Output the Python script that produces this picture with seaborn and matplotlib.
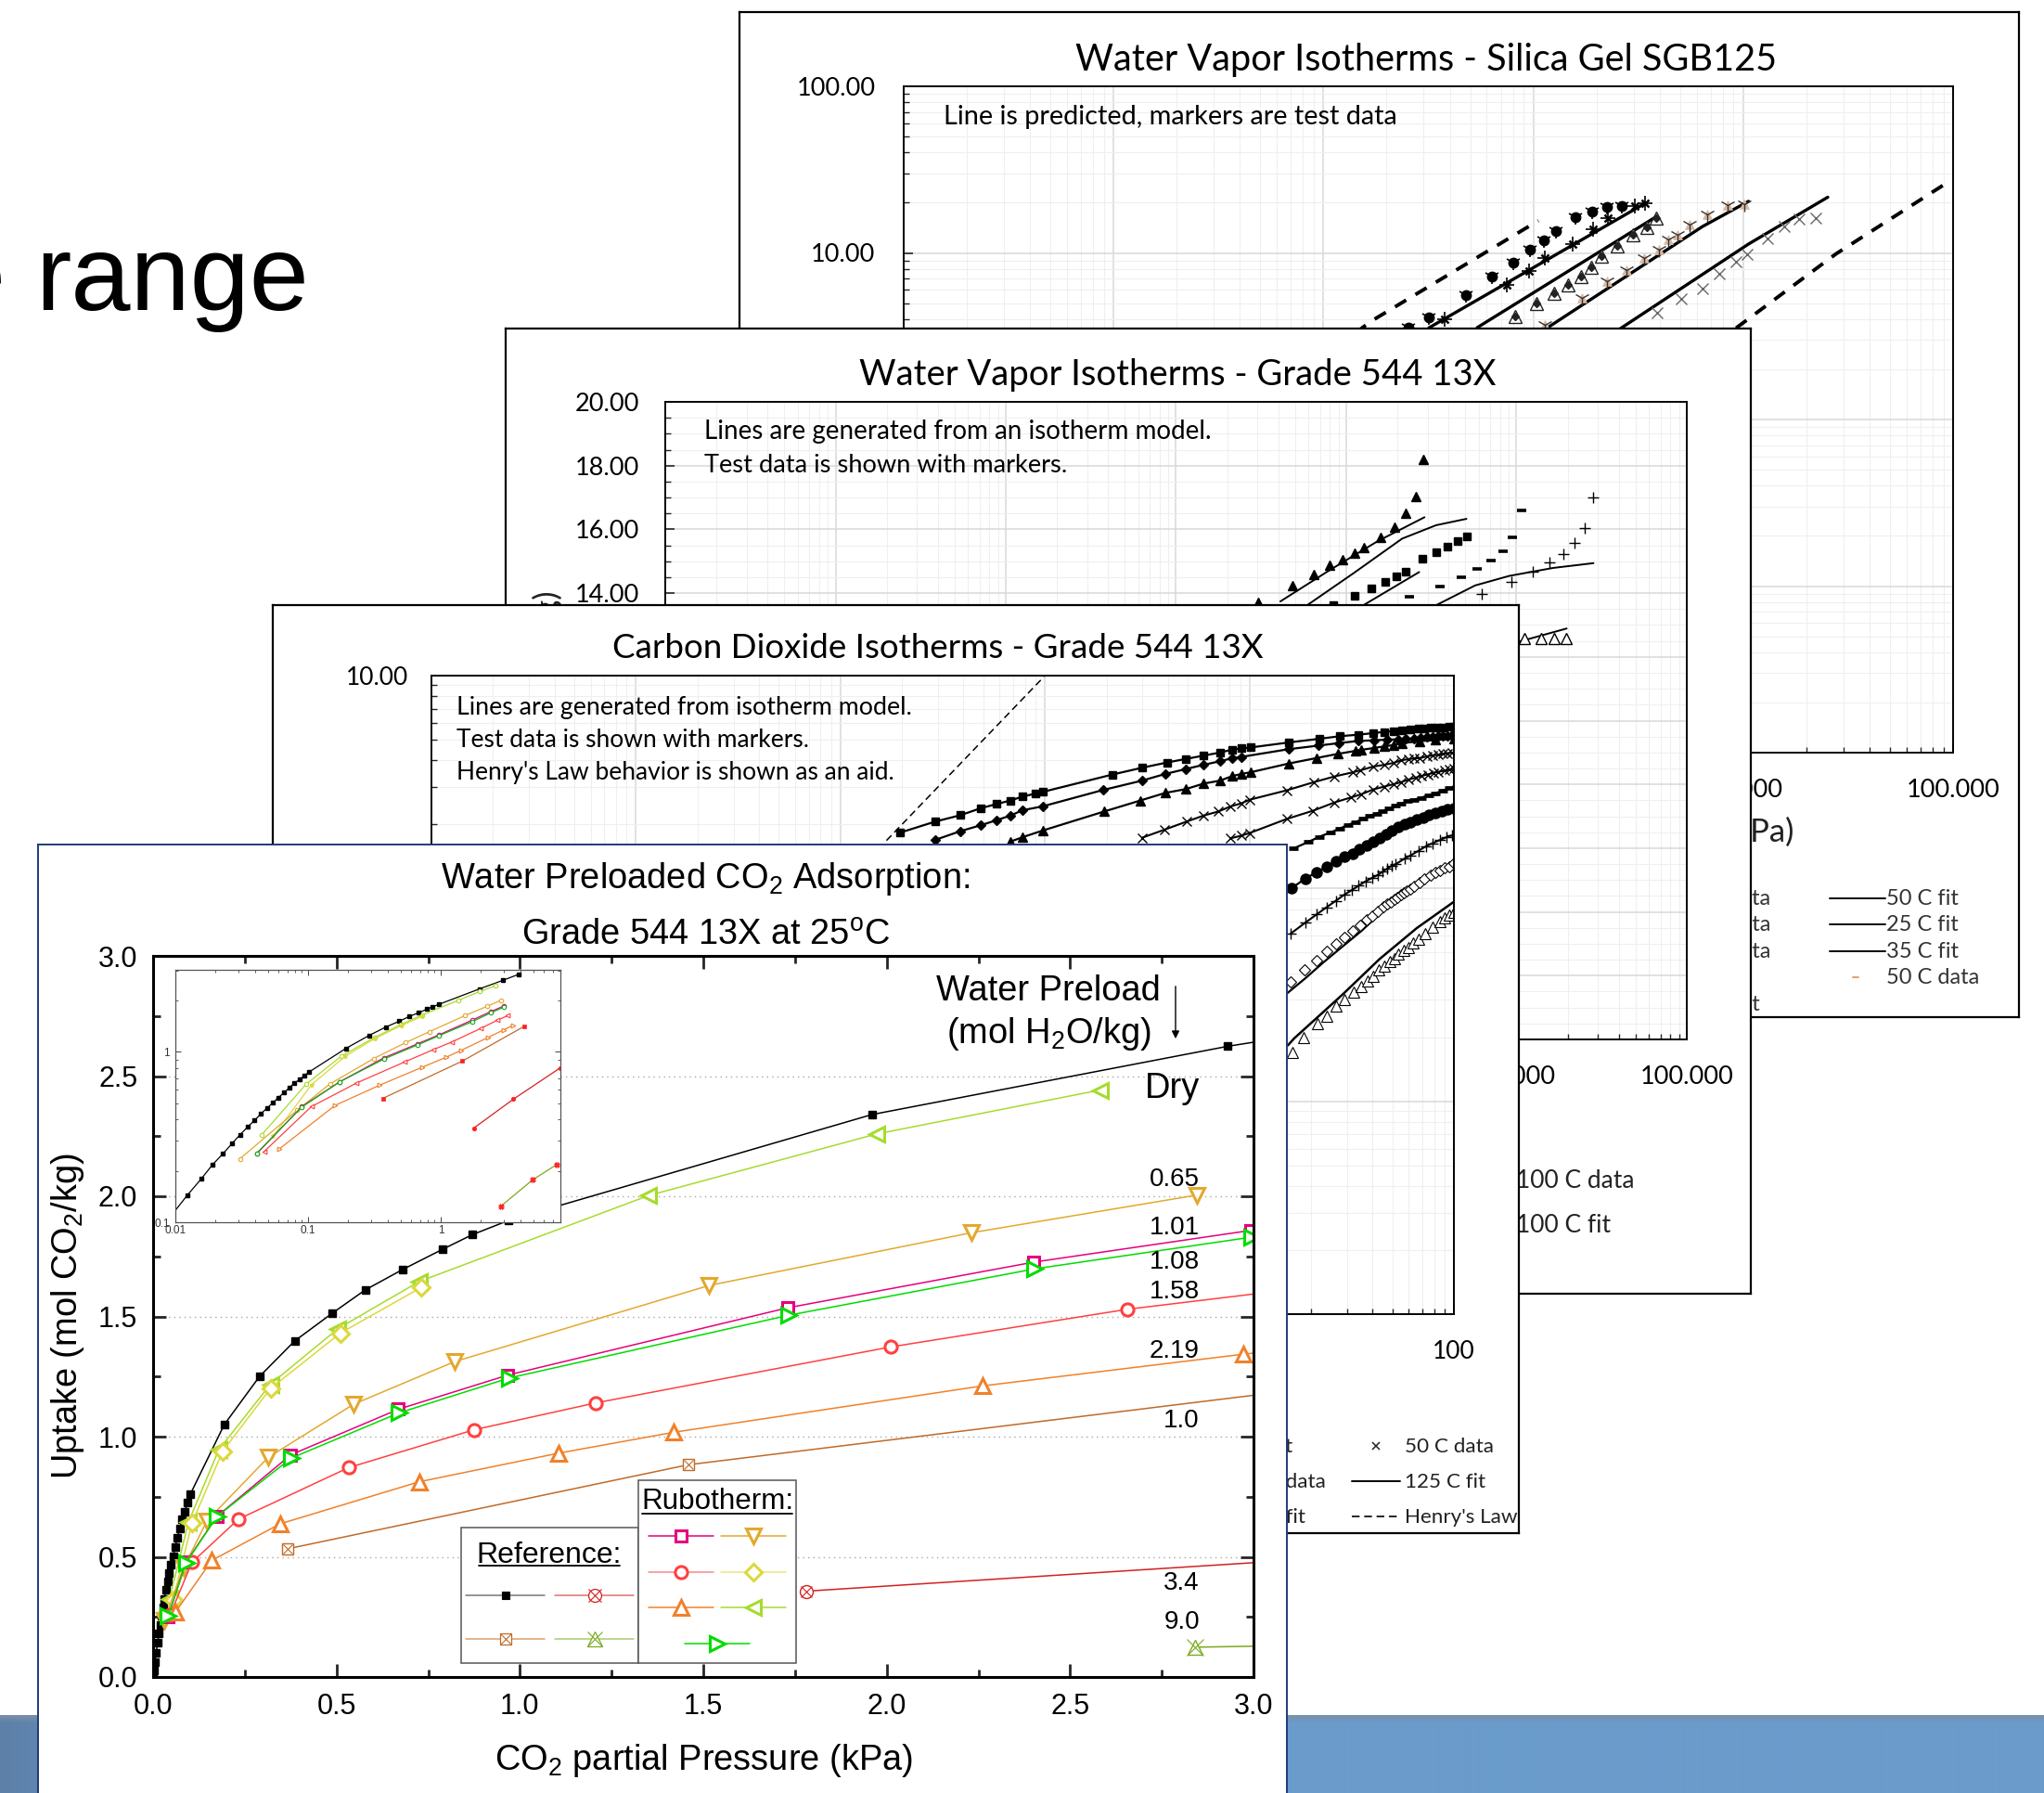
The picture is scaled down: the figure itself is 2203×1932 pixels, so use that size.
"""
Slide montage: three isotherm charts stacked behind the water preloaded CO2 chart.
"""

import numpy as np
import matplotlib
matplotlib.use("Agg")
import matplotlib.pyplot as plt
from matplotlib.ticker import LogLocator, FixedLocator, FixedFormatter, MultipleLocator, NullFormatter
import seaborn as sns

W, H = 2203, 1932

# main chart, dry and rubotherm series
dry_x = [0.0006, 0.002, 0.0045, 0.0085, 0.0123, 0.0157, 0.019, 0.0229, 0.0267, 0.0307, 0.035, 0.0395, 0.0442, 0.0493, 0.0545, 0.06, 0.0662, 0.0725, 0.0788, 0.0866, 0.0936, 0.102, 0.194, 0.29, 0.386, 0.489, 0.578, 0.68, 0.79, 0.87, 0.97, 1.96, 2.93, 3.87]
dry_y = [0.006, 0.028, 0.06, 0.1, 0.144, 0.18, 0.217, 0.253, 0.289, 0.326, 0.362, 0.396, 0.433, 0.469, 0.503, 0.54, 0.578, 0.616, 0.655, 0.689, 0.724, 0.762, 1.05, 1.25, 1.398, 1.514, 1.61, 1.695, 1.78, 1.84, 1.9, 2.34, 2.624, 2.85]
lime_x = [0.0448, 0.0966, 0.179, 0.32, 0.504, 0.725, 1.351, 1.972, 2.582]
lime_y = [0.326, 0.645, 0.945, 1.218, 1.449, 1.645, 2.003, 2.259, 2.442]
yellow_x = [0.0546, 0.106, 0.19, 0.32, 0.51, 0.73]
yellow_y = [0.32, 0.64, 0.94, 1.2, 1.43, 1.62]
gold_x = [0.0307, 0.083, 0.147, 0.314, 0.547, 0.822, 1.516, 2.23, 2.846]
gold_y = [0.236, 0.455, 0.65, 0.914, 1.135, 1.312, 1.629, 1.848, 2.005]
pink_x = [0.041, 0.09, 0.174, 0.375, 0.669, 0.967, 1.73, 2.401, 2.993]
pink_y = [0.252, 0.478, 0.668, 0.924, 1.114, 1.256, 1.536, 1.726, 1.858]
green_x = [0.041, 0.09, 0.174, 0.377, 0.671, 0.971, 1.733, 2.404, 2.995]
green_y = [0.254, 0.475, 0.668, 0.911, 1.099, 1.244, 1.505, 1.698, 1.83]
red_x = [0.0467, 0.106, 0.233, 0.533, 0.874, 1.206, 2.01, 2.657, 3.2]
red_y = [0.26, 0.477, 0.657, 0.871, 1.028, 1.14, 1.373, 1.53, 1.63]
orange_x = [0.061, 0.16, 0.346, 0.725, 1.105, 1.419, 2.261, 2.973, 3.5]
orange_y = [0.27, 0.485, 0.637, 0.812, 0.931, 1.018, 1.211, 1.343, 1.43]
ref_brown_x = [0.366, 1.459, 4.3]
ref_brown_y = [0.533, 0.883, 1.416]
ref_red_x = [1.78, 3.53, 7.95]
ref_red_y = [0.357, 0.527, 0.804]
ref_green_x = [2.84, 4.92, 7.5]
ref_green_y = [0.124, 0.177, 0.218]

main_labels = ["Dry", "0.65", "1.01", "1.08", "1.58", "2.19", "1.0", "3.4", "9.0"]

# silica gel chart, visible part
sg_dash1_x = [0.142, 0.167, 1.02, 1.057]
sg_dash1_y = [3.3, 3.86, 15.2, 15.6]
sg_fit1_x = [0.318, 3.42]
sg_fit1_y = [3.55, 19.9]
sg_fit2_x = [0.54, 3.85]
sg_fit2_y = [3.56, 16.5]
sg_fit3_x = [1.17, 6.4, 10.6]
sg_fit3_y = [3.56, 14.4, 20.4]
sg_fit4_x = [2.56, 10.6, 25.3]
sg_fit4_y = [3.47, 11.3, 21.6]
sg_dash2_x = [9.25, 27.7, 98.6]
sg_dash2_y = [3.54, 9.87, 27.5]
sg_blob_x = [0.255, 0.318, 0.478, 0.637, 0.803, 0.964, 1.12, 1.28, 1.59, 1.91, 2.24, 2.65]
sg_blob_y = [3.55, 4.08, 5.6, 7.18, 8.78, 10.4, 11.9, 13.5, 16.3, 17.8, 18.8, 19.2]
sg_plus_x = [0.379, 0.747, 0.957, 1.13, 1.54, 1.93, 2.27, 3.03, 3.42]
sg_plus_y = [4.0, 6.45, 7.82, 9.28, 11.3, 13.8, 16.2, 19.2, 19.9]
sg_tri_x = [0.822, 1.04, 1.26, 1.47, 1.69, 1.89, 2.12, 2.52, 2.98, 3.48, 3.85]
sg_tri_y = [4.17, 4.99, 5.72, 6.45, 7.18, 8.16, 9.56, 11.0, 12.8, 14.2, 16.2]
sg_star_x = [1.14, 1.7, 2.24, 2.79, 3.36, 3.98, 4.41, 4.86, 5.58, 6.71, 8.43, 10.1]
sg_star_y = [3.7, 5.39, 6.73, 7.92, 9.28, 10.5, 12.0, 12.9, 14.8, 17.1, 19.4, 19.7]
sg_cross_x = [3.87, 5.09, 6.41, 7.69, 9.25, 10.4, 13.1, 15.7, 18.4, 22.1]
sg_cross_y = [4.39, 5.3, 6.07, 7.53, 8.85, 9.86, 12.2, 14.4, 16.0, 16.2]

# 13X water chart, visible part
wv_fit1_x = [0.41, 0.793, 1.53, 2.88]
wv_fit1_y = [13.74, 14.71, 15.63, 16.38]
wv_fit2_x = [0.589, 1.1, 2.13, 3.37, 5.08]
wv_fit2_y = [13.62, 14.62, 15.71, 16.13, 16.33]
wv_fit3_x = [1.26, 2.68]
wv_fit3_y = [13.62, 14.66]
wv_fit4_x = [3.37, 5.71, 9.06, 16.4, 28.3]
wv_fit4_y = [13.62, 14.24, 14.54, 14.79, 14.94]
wv_fit5_x = [10.4, 19.7]
wv_fit5_y = [12.48, 12.89]
wv_tri_x = [0.303, 0.481, 0.643, 0.793, 0.953, 1.12, 1.27, 1.59, 1.91, 2.24, 2.56, 2.83]
wv_tri_y = [13.71, 14.24, 14.59, 14.87, 15.06, 15.26, 15.43, 15.76, 16.08, 16.5, 17.03, 18.2]
wv_square_x = [0.836, 1.12, 1.41, 1.69, 1.97, 2.24, 2.81, 3.37, 3.95, 4.51, 5.08]
wv_square_y = [13.62, 13.91, 14.16, 14.36, 14.54, 14.67, 15.08, 15.28, 15.46, 15.63, 15.79]
wv_dash_x = [2.35, 3.53, 4.72, 5.9, 7.11, 8.32, 9.49, 10.7]
wv_dash_y = [13.89, 14.22, 14.5, 14.76, 15.01, 15.31, 15.76, 16.6]
wv_plus_x = [6.27, 9.38, 12.4, 15.7, 18.8, 21.8, 25.0, 28.2]
wv_plus_y = [13.96, 14.34, 14.67, 14.96, 15.24, 15.58, 16.04, 17.0]
wv_open_x = [11.1, 13.9, 16.6, 19.5]
wv_open_y = [12.57, 12.57, 12.57, 12.57]

# 13X CO2 chart, visible part
henry_x = [0.168, 0.99]
henry_y = [1.68, 9.89]
co2_s1_x = [0.196, 0.29, 0.387, 0.484, 0.578, 0.678, 0.776, 0.897, 0.973, 2.14, 2.98, 3.97, 4.89, 5.97, 7.18, 8.22, 9.12, 10.2, 15.5, 22, 27.6, 34.2, 40.4, 45.6, 50.7, 55.9, 60.9, 66.9, 71.8, 77, 82.6, 88.5, 94.9, 100]
co2_s1_y = [1.83, 2.06, 2.21, 2.38, 2.49, 2.59, 2.7, 2.79, 2.84, 3.43, 3.69, 3.91, 4.06, 4.21, 4.35, 4.49, 4.55, 4.6, 4.85, 5.05, 5.19, 5.28, 5.37, 5.44, 5.49, 5.55, 5.58, 5.62, 5.66, 5.68, 5.7, 5.72, 5.74, 5.75]
co2_s2_x = [0.29, 0.387, 0.484, 0.578, 0.678, 0.776, 0.973, 1.92, 2.98, 3.87, 4.89, 5.97, 7.18, 8.22, 9.12, 15.5, 21.7, 27.4, 34, 40.7, 47.3, 53.3, 58.2, 63.5, 68.6, 73.6, 78.4, 83.4, 88.5, 93.2, 98.2]
co2_s2_y = [1.69, 1.86, 1.98, 2.09, 2.2, 2.33, 2.43, 2.9, 3.21, 3.45, 3.64, 3.81, 3.96, 4.09, 4.15, 4.51, 4.69, 4.82, 4.93, 4.97, 5.0, 5.02, 5.03, 5.07, 5.1, 5.14, 5.16, 5.19, 5.21, 5.22, 5.24]
co2_s3_x = [0.678, 0.776, 0.973, 1.95, 2.93, 3.87, 4.89, 5.97, 7.18, 8.22, 9.12, 10.2, 15.5, 21.3, 27.1, 33, 35.2, 40.7, 45.6, 50.7, 55.9, 68.1, 81.1, 100]
co2_s3_y = [1.66, 1.74, 1.87, 2.3, 2.59, 2.81, 2.93, 3.11, 3.21, 3.37, 3.45, 3.52, 3.86, 4.1, 4.29, 4.43, 4.48, 4.57, 4.65, 4.72, 4.82, 4.92, 4.98, 5.05]
co2_s4_x = [2.98, 3.85, 4.92, 5.97, 7.06, 8.09, 9.12, 10, 15.2, 20.7, 26.1, 31.9, 34.9, 40.4, 45.6, 50.7, 55.3, 59.7, 63.5, 68.1, 73.6, 78.4, 83.4, 88.5, 93.2, 98.2]
co2_s4_y = [1.73, 1.89, 2.06, 2.2, 2.3, 2.43, 2.51, 2.61, 2.89, 3.16, 3.36, 3.51, 3.59, 3.74, 3.81, 3.89, 4.0, 4.05, 4.08, 4.1, 4.17, 4.22, 4.24, 4.29, 4.32, 4.35]
co2_s5_x = [8.09, 9.12, 10, 15.2, 20.5, 25.9, 31.5, 35.2, 40.4, 45.6, 50.7, 55.3, 60.2, 65.3, 69.3, 74.4, 79.6, 83.9, 90, 94.9, 99.6]
co2_s5_y = [1.72, 1.77, 1.82, 2.12, 2.32, 2.53, 2.68, 2.77, 2.92, 3.01, 3.09, 3.16, 3.25, 3.32, 3.38, 3.43, 3.5, 3.53, 3.58, 3.61, 3.65]
co2_s6_x = [16.4, 19.3, 22, 24.8, 27.6, 30.4, 33, 35.8, 38.7, 41.9, 44.9, 48.1, 51.6, 55.3, 59.3, 63.5, 69.3, 75.2, 81.1, 88.5, 94.9, 103]
co2_s6_y = [1.54, 1.65, 1.75, 1.83, 1.91, 1.99, 2.05, 2.12, 2.19, 2.25, 2.31, 2.37, 2.44, 2.5, 2.57, 2.61, 2.67, 2.74, 2.8, 2.89, 2.96, 3.01]
co2_s7_x = [16, 18.7, 21.2, 23.8, 26.6, 29.2, 31.9, 34.5, 37.4, 40.4, 43.3, 46.5, 49.8, 53.3, 57.3, 61.4, 65.8, 70.5, 75.6, 81.1, 86.9, 93.2, 100]
co2_s7_y = [1.0, 1.11, 1.19, 1.26, 1.34, 1.41, 1.46, 1.53, 1.6, 1.66, 1.73, 1.8, 1.87, 1.94, 2.0, 2.05, 2.1, 2.16, 2.21, 2.27, 2.31, 2.35, 2.39]
co2_s8_x = [15.9, 18.7, 21.4, 23.8, 26.4, 29, 31.7, 34.2, 37, 39.7, 42.6, 44.9, 47.3, 49.8, 51.9, 57.3, 61.4, 66.9, 73.2, 78.4, 85.6, 91.6, 98.2]
co2_s8_y = [0.613, 0.689, 0.757, 0.815, 0.874, 0.932, 0.983, 1.03, 1.08, 1.12, 1.16, 1.2, 1.24, 1.28, 1.3, 1.38, 1.43, 1.5, 1.58, 1.63, 1.69, 1.74, 1.78]
co2_s9_x = [15.9, 18.6, 21.2, 24, 26.6, 29.2, 32, 34.7, 37.4, 39.7, 42.6, 45.2, 47.3, 49.3, 51.2, 53, 54.9, 56.9, 58.9, 61.4, 63.9, 67.7, 71.8, 77, 81.1, 85.6, 90, 94.9, 100]
co2_s9_y = [0.363, 0.415, 0.458, 0.507, 0.547, 0.589, 0.634, 0.674, 0.713, 0.745, 0.783, 0.818, 0.846, 0.866, 0.889, 0.91, 0.932, 0.951, 0.973, 0.996, 1.02, 1.07, 1.11, 1.15, 1.19, 1.22, 1.25, 1.27, 1.31]
co2_fit9_x = [15.2, 18.8, 23.1, 28.5, 35.2, 43.3, 53.3, 65.8, 81.1, 100]
co2_fit9_y = [0.32, 0.379, 0.451, 0.533, 0.63, 0.757, 0.886, 1.02, 1.16, 1.32]
co2_s10_x = [16.2, 18.5, 21.6, 24, 26.6, 29.2, 32.2, 35.2, 37.9, 40.1, 43, 45.6, 48.6, 51.2, 53.7, 56.9, 59.7, 63, 66.9, 72.6, 78.4, 85.6, 90, 94.9, 100]
co2_s10_y = [0.17, 0.2, 0.231, 0.251, 0.28, 0.302, 0.325, 0.347, 0.366, 0.385, 0.415, 0.432, 0.454, 0.469, 0.49, 0.512, 0.529, 0.555, 0.579, 0.613, 0.656, 0.696, 0.725, 0.75, 0.775]
co2_fit10_x = [15.4, 16.6, 28.5, 43.3, 65.8, 100]
co2_fit10_y = [0.183, 0.198, 0.317, 0.466, 0.651, 0.866]

BLACK = "#000000"
PINK = "#e6007e"
GOLD = "#e3a82e"
RED = "#ff4040"
YELLOW = "#dcd83c"
ORANGE = "#f0812a"
LIME = "#a5dc2d"
GREEN = "#00dc00"
BROWN = "#c06a28"
REF_RED = "#d42020"
REF_GREEN = "#7aaa20"

sns.set_theme(style="white")
plt.rcParams["font.family"] = ["Liberation Sans", "DejaVu Sans"]
plt.rcParams["mathtext.fontset"] = "custom"
plt.rcParams["mathtext.rm"] = "Liberation Sans"
plt.rcParams["mathtext.it"] = "Liberation Sans"
plt.rcParams["mathtext.default"] = "regular"
plt.rcParams["text.color"] = "black"
plt.rcParams["lines.dash_capstyle"] = "butt"

CALIBRI = "Lato"
fig = plt.figure(figsize=(W / 100, H / 100), dpi=100, facecolor="white")


def px_axes(x0, y0, x1, y1, z):
    """Axes placed by figure pixels, y running down."""
    return fig.add_axes([x0 / W, 1 - y1 / H, (x1 - x0) / W, (y1 - y0) / H], zorder=z)


def card(x0, y0, x1, y1, z, edge="black", lw=1.6):
    """White card, text on it is placed in figure pixels."""
    ax = px_axes(x0, y0, x1, y1, z)
    ax.set_xlim(x0, x1)
    ax.set_ylim(y1, y0)
    ax.set_xticks([])
    ax.set_yticks([])
    ax.set_facecolor("white")
    for s in ax.spines.values():
        s.set_color(edge)
        s.set_linewidth(lw)
    return ax


def curve(ax, x, y, color="black", lw=1.1, ls="-", marker=None, ms=6, mfc=None, mec=None, mew=1.0):
    sns.lineplot(x=x, y=y, ax=ax, color=color, linewidth=lw, linestyle=ls, marker=marker,
                 markersize=ms, markerfacecolor=mfc if mfc else color, markeredgecolor=mec if mec else color,
                 markeredgewidth=mew, estimator=None, sort=False, legend=False, errorbar=None)


def dots(ax, x, y, marker, ms=6, color="black", mfc=None, mew=1.0):
    curve(ax, x, y, color=color, lw=0, ls="", marker=marker, ms=ms, mfc=mfc, mec=color, mew=mew)


def log_grid(ax):
    ax.grid(True, which="major", color="#d8d8d8", linewidth=1.1)
    ax.grid(True, which="minor", color="#efefef", linewidth=0.8)
    ax.set_axisbelow(True)


def panel_ticks(ax, size=19.5, ypad=22):
    ax.tick_params(axis="x", which="major", pad=20.5)
    ax.tick_params(axis="y", which="major", pad=ypad)
    ax.tick_params(axis="both", which="major", direction="in", length=7, width=1.2, bottom=True, left=True,
                   labelsize=size, labelfontfamily=CALIBRI, labelcolor="black")
    ax.tick_params(axis="both", which="minor", direction="in", length=4, width=1.0, bottom=True, left=True)
    for s in ax.spines.values():
        s.set_color("black")
        s.set_linewidth(1.4)
    ax.set_xlabel("")
    ax.set_ylabel("")


# slide background, blue band with a pale lip on its upper edge
bg = px_axes(0, 0, W, H, 0)
bg.set_axis_off()
left_rgb = np.array([0x5d, 0x80, 0xa8]) / 255
right_rgb = np.array([0x6a, 0x9b, 0xcb]) / 255
ramp = np.clip(np.linspace(0, 1, 256) * 12, 0, 1)[None, :, None]
band = left_rgb + (right_rgb - left_rgb) * ramp
lip = np.array([0x7a, 0x90, 0xa8]) / 255
fade = np.clip(np.arange(84) / 8.0, 0, 1)[:, None, None]
band = lip * (1 - fade) + band * fade
bg.imshow(band, extent=(0, W, H, 1848), aspect="auto", interpolation="bilinear")
bg.set_xlim(0, W)
bg.set_ylim(H, 0)
bg.text(38, 334, "range", fontsize=83, color="black", ha="left", va="baseline")
bg.text(5, 334, "e", fontsize=83, color="black", ha="right", va="baseline")

# ---- silica gel card
card_a = card(797, 13, 2176, 1096, 1)
card_a.text(1537, 64, "Water Vapor Isotherms - Silica Gel SGB125", family=CALIBRI, fontsize=28.5, ha="center", va="center")
card_a.text(1933, 897, "Water Pressure (kPa)", family=CALIBRI, fontsize=25, ha="right", va="center", color="#222222")
for yy, xe, txt in zip([968, 996, 1025, 1082], [1908, 1908, 1908, 1897], ["25 C data", "35 C data", "35 C data", "25 C fit"]):
    card_a.text(xe, yy, txt, family=CALIBRI, fontsize=17, ha="right", va="center", color="#333333")
for yy, txt in zip([968, 996, 1025], ["50 C fit", "25 C fit", "35 C fit"]):
    card_a.text(2033, yy, txt, family=CALIBRI, fontsize=17, ha="left", va="center", color="#333333")
    card_a.plot([1972, 2032], [yy, yy], color="black", lw=1.4)
card_a.text(2033, 1053, "50 C data", family=CALIBRI, fontsize=17, ha="left", va="center", color="#333333")
card_a.plot([1997, 2003], [1053, 1053], color="#e8a060", lw=1.4)

ax_a = px_axes(974, 93, 2105, 811, 2)
ax_a.set_xscale("log")
ax_a.set_yscale("log")
for x, y in [(sg_dash1_x, sg_dash1_y), (sg_dash2_x, sg_dash2_y)]:
    curve(ax_a, x, y, ls=(0, (3.6, 3.0)), lw=2.8)
for x, y in [(sg_fit1_x, sg_fit1_y), (sg_fit2_x, sg_fit2_y), (sg_fit3_x, sg_fit3_y), (sg_fit4_x, sg_fit4_y)]:
    curve(ax_a, x, y, lw=2.4)
dots(ax_a, sg_blob_x, sg_blob_y, "o", ms=7.5)
dots(ax_a, sg_blob_x, sg_blob_y, "1", ms=12, mew=1.2)
dots(ax_a, sg_plus_x, sg_plus_y, "+", ms=12, mew=1.2)
dots(ax_a, sg_plus_x, sg_plus_y, "x", ms=6, mew=1.8)
dots(ax_a, sg_tri_x, sg_tri_y, "^", ms=10, mfc="white", color="#222222")
dots(ax_a, sg_tri_x, sg_tri_y, "D", ms=4.5, color="#222222")
dots(ax_a, sg_star_x, sg_star_y, "^", ms=6.5, color="#d9b8a0", mew=0.5)
dots(ax_a, sg_star_x, sg_star_y, "1", ms=12, color="#333333")
dots(ax_a, sg_cross_x, sg_cross_y, "x", ms=8, color="#666666")
ax_a.set_xlim(0.001, 100)
ax_a.set_ylim(0.01, 100)
ax_a.xaxis.set_major_locator(FixedLocator([0.001, 0.01, 0.1, 1, 10, 100]))
ax_a.xaxis.set_major_formatter(FixedFormatter(["0.001", "0.010", "0.100", "1.000", "10.000", "100.000"]))
ax_a.yaxis.set_major_locator(FixedLocator([0.01, 0.1, 1, 10, 100]))
ax_a.yaxis.set_major_formatter(FixedFormatter(["0.01", "0.10", "1.00", "10.00", "100.00"]))
ax_a.xaxis.set_minor_locator(LogLocator(10, subs=range(2, 10), numticks=12))
ax_a.yaxis.set_minor_locator(LogLocator(10, subs=range(2, 10), numticks=12))
ax_a.xaxis.set_minor_formatter(NullFormatter())
ax_a.yaxis.set_minor_formatter(NullFormatter())
log_grid(ax_a)
panel_ticks(ax_a)
ax_a.text(0.038, 0.954, "Line is predicted, markers are test data", transform=ax_a.transAxes, family=CALIBRI, fontsize=20.8, va="center")

# ---- 13X water card
card_b = card(545, 354, 1887, 1394, 3)
card_b.text(1269, 404, "Water Vapor Isotherms - Grade 544 13X", family=CALIBRI, fontsize=27.5, ha="center", va="center")
card_b.text(590, 636, "Water Uptake (mol/kg)", family=CALIBRI, fontsize=25, rotation=90, ha="center", va="top", color="#222222")
card_b.text(1634, 1272, "100 C data", family=CALIBRI, fontsize=19, ha="left", va="center", color="#222222")
card_b.text(1634, 1320, "100 C fit", family=CALIBRI, fontsize=19, ha="left", va="center", color="#222222")

ax_b = px_axes(717, 433, 1818, 1120, 4)
ax_b.set_xscale("log")
for x, y in [(wv_fit1_x, wv_fit1_y), (wv_fit2_x, wv_fit2_y), (wv_fit3_x, wv_fit3_y), (wv_fit4_x, wv_fit4_y), (wv_fit5_x, wv_fit5_y)]:
    curve(ax_b, x, y, lw=1.4)
dots(ax_b, wv_tri_x, wv_tri_y, "^", ms=6.5)
dots(ax_b, wv_square_x, wv_square_y, "s", ms=5.5)
dots(ax_b, wv_dash_x, wv_dash_y, "_", ms=7, mew=2.6)
dots(ax_b, wv_plus_x, wv_plus_y, "+", ms=8)
dots(ax_b, wv_open_x, wv_open_y, "^", ms=8, mfc="white")
ax_b.set_xlim(0.0001, 100)
ax_b.set_ylim(0, 20)
ax_b.xaxis.set_major_locator(FixedLocator([0.0001, 0.001, 0.01, 0.1, 1, 10, 100]))
ax_b.xaxis.set_major_formatter(FixedFormatter(["0.000", "0.001", "0.010", "0.100", "1.000", "10.000", "100.000"]))
ax_b.xaxis.set_minor_locator(LogLocator(10, subs=range(2, 10), numticks=12))
ax_b.xaxis.set_minor_formatter(NullFormatter())
ax_b.yaxis.set_major_locator(MultipleLocator(2))
ax_b.yaxis.set_major_formatter("{x:.2f}")
ax_b.yaxis.set_minor_locator(MultipleLocator(0.5))
log_grid(ax_b)
panel_ticks(ax_b, ypad=20)
ax_b.text(0.0377, 0.953, "Lines are generated from an isotherm model.", transform=ax_b.transAxes, family=CALIBRI, fontsize=20, va="center")
ax_b.text(0.0377, 0.901, "Test data is shown with markers.", transform=ax_b.transAxes, family=CALIBRI, fontsize=19.6, va="center")

# ---- 13X CO2 card
card_c = card(294, 652, 1637, 1652, 5)
card_c.text(1011, 699, "Carbon Dioxide Isotherms - Grade 544 13X", family=CALIBRI, fontsize=26.5, ha="center", va="center")
for yy, xe, txt in zip([1559, 1597, 1635], [1393, 1429, 1407], ["75 C fit", "100 C data", "100 C fit"]):
    card_c.text(xe, yy, txt, family=CALIBRI, fontsize=16.2, ha="right", va="center", color="#222222")
card_c.plot([1483], [1558], marker="x", color="#222222", ms=6, mew=1.1)
card_c.text(1514, 1559, "50 C data", family=CALIBRI, fontsize=16.2, ha="left", va="center", color="#222222")
card_c.plot([1457, 1509], [1596, 1596], color="black", lw=1.4)
card_c.text(1514, 1597, "125 C fit", family=CALIBRI, fontsize=16.2, ha="left", va="center", color="#222222")
card_c.plot([1457, 1509], [1634, 1634], color="black", lw=1.2, ls=(0, (5, 3)))
card_c.text(1514, 1635, "Henry's Law", family=CALIBRI, fontsize=16.2, ha="left", va="center", color="#222222")

ax_c = px_axes(465, 728, 1567, 1416, 6)
ax_c.set_xscale("log")
ax_c.set_yscale("log")
curve(ax_c, henry_x, henry_y, lw=1.1, ls=(0, (5, 3)))
curve(ax_c, co2_s1_x, co2_s1_y, lw=1.6, marker="s", ms=6)
curve(ax_c, co2_s2_x, co2_s2_y, lw=1.6, marker="D", ms=5)
curve(ax_c, co2_s3_x, co2_s3_y, lw=1.6, marker="^", ms=6.5)
curve(ax_c, co2_s4_x, co2_s4_y, lw=1.5, marker="x", ms=7)
curve(ax_c, co2_s5_x, co2_s5_y, lw=1.5, marker="x", ms=7)
curve(ax_c, co2_s6_x, co2_s6_y, lw=1.6, marker="_", ms=7, mew=3.4)
curve(ax_c, co2_s7_x, co2_s7_y, lw=1.6, marker="o", ms=8)
curve(ax_c, co2_s8_x, co2_s8_y, lw=1.5, marker="+", ms=9)
curve(ax_c, co2_fit9_x, co2_fit9_y, lw=1.6)
dots(ax_c, co2_s9_x, co2_s9_y, "D", ms=6.5, mfc="white", mew=0.8)
curve(ax_c, co2_fit10_x, co2_fit10_y, lw=1.8)
dots(ax_c, co2_s10_x, co2_s10_y, "^", ms=8, mfc="white", mew=0.8)
ax_c.set_xlim(0.001, 100)
ax_c.set_ylim(0.01, 10)
ax_c.xaxis.set_major_locator(FixedLocator([0.001, 0.01, 0.1, 1, 10, 100]))
ax_c.xaxis.set_major_formatter(FixedFormatter(["0.001", "0.01", "0.1", "1", "10", "100"]))
ax_c.yaxis.set_major_locator(FixedLocator([0.01, 0.1, 1, 10]))
ax_c.yaxis.set_major_formatter(FixedFormatter(["0.01", "0.10", "1.00", "10.00"]))
ax_c.xaxis.set_minor_locator(LogLocator(10, subs=range(2, 10), numticks=12))
ax_c.yaxis.set_minor_locator(LogLocator(10, subs=range(2, 10), numticks=12))
ax_c.xaxis.set_minor_formatter(NullFormatter())
ax_c.yaxis.set_minor_formatter(NullFormatter())
log_grid(ax_c)
panel_ticks(ax_c, size=19, ypad=18)
for yf, txt, fs in zip([0.95, 0.899, 0.848], ["Lines are generated from isotherm model.", "Test data is shown with markers.", "Henry's Law behavior is shown as an aid."], [19.3, 19.0, 19.0]):
    ax_c.text(0.0245, yf, txt, transform=ax_c.transAxes, family=CALIBRI, fontsize=fs, va="center")

# ---- front card, water preloaded chart
card_m = card(41, 910, 1387, 1945, 7, edge="#1f3a7a", lw=1.4)
card_m.text(760, 947, "Water Preloaded CO$_2$ Adsorption:", fontsize=27.4, ha="center", va="center")
card_m.text(760, 1008, "Grade 544 13X at 25$^{o}$C", fontsize=27.4, ha="center", va="center")

ax_m = px_axes(165, 1030, 1351, 1807, 8)
curve(ax_m, dry_x, dry_y, marker="s", ms=5.5, lw=1.1)
curve(ax_m, lime_x, lime_y, color=LIME, marker="<", ms=11, mfc="white", mew=2.2)
curve(ax_m, yellow_x, yellow_y, color=YELLOW, marker="D", ms=9, mfc="white", mew=2.2)
curve(ax_m, gold_x, gold_y, color=GOLD, marker="v", ms=11, mfc="white", mew=2.2)
curve(ax_m, pink_x, pink_y, color=PINK, marker="s", ms=8, mfc="white", mew=2.2)
curve(ax_m, red_x, red_y, color=RED, marker="o", ms=9.5, mfc="white", mew=2.2)
curve(ax_m, orange_x, orange_y, color=ORANGE, marker="^", ms=11, mfc="white", mew=2.2)
curve(ax_m, green_x, green_y, color=GREEN, marker=">", ms=11, mfc="white", mew=2.2)
curve(ax_m, ref_brown_x, ref_brown_y, color=BROWN, marker="s", ms=8, mfc="white", mew=1.0)
dots(ax_m, ref_brown_x, ref_brown_y, "x", ms=7.5, color=BROWN, mew=0.8)
curve(ax_m, ref_red_x, ref_red_y, color=REF_RED, marker="o", ms=10, mfc="white", mew=1.0)
dots(ax_m, ref_red_x, ref_red_y, "x", ms=8, color=REF_RED, mew=0.8)
curve(ax_m, ref_green_x, ref_green_y, color=REF_GREEN, marker="^", ms=11, mfc="white", mew=1.0)
dots(ax_m, ref_green_x, ref_green_y, "x", ms=13, color=REF_GREEN, mew=0.8)
ax_m.set_xlim(0, 3)
ax_m.set_ylim(0, 3)
ax_m.xaxis.set_major_locator(MultipleLocator(0.5))
ax_m.xaxis.set_minor_locator(MultipleLocator(0.25))
ax_m.yaxis.set_major_locator(MultipleLocator(0.5))
ax_m.yaxis.set_minor_locator(MultipleLocator(0.25))
ax_m.xaxis.set_major_formatter("{x:.1f}")
ax_m.yaxis.set_major_formatter("{x:.1f}")
ax_m.tick_params(axis="both", which="major", direction="in", length=10, width=2.0, top=True, right=True, bottom=True, left=True,
                 labelsize=22, labelcolor="black", pad=12)
ax_m.tick_params(axis="both", which="minor", direction="in", length=5.5, width=2.0, top=True, right=True, bottom=True, left=True)
ax_m.grid(True, axis="y", which="major", color="#a8a8a8", linewidth=1.0, linestyle=(0, (1, 3)))
ax_m.set_axisbelow(True)
for s in ax_m.spines.values():
    s.set_color("black")
    s.set_linewidth(2.2)
ax_m.set_xlabel("CO$_2$ partial Pressure (kPa)", fontsize=27.4, labelpad=17, color="black")
ax_m.set_ylabel("Uptake (mol CO$_2$/kg)", fontsize=27.4, labelpad=9, color="black")

# log-log inset
ax_i = px_axes(189, 1045, 604, 1317, 9)
ax_i.set_xscale("log")
ax_i.set_yscale("log")
curve(ax_i, dry_x, dry_y, marker="s", ms=2.8, lw=0.9)
curve(ax_i, lime_x, lime_y, color=LIME, marker="o", ms=3.2, mfc="white", mew=0.8, lw=0.9)
curve(ax_i, yellow_x, yellow_y, color=YELLOW, marker="*", ms=3.6, mew=0.8, lw=0.9)
curve(ax_i, gold_x, gold_y, color=GOLD, marker="o", ms=3.2, mfc="white", mew=0.8, lw=0.9)
curve(ax_i, pink_x, pink_y, color=PINK, marker="o", ms=3.2, mfc="white", mew=0.8, lw=0.9)
curve(ax_i, red_x, red_y, color=RED, marker="<", ms=3.4, mfc="white", mew=0.8, lw=0.9)
curve(ax_i, orange_x, orange_y, color=ORANGE, marker=">", ms=3.4, mfc="white", mew=0.8, lw=0.9)
curve(ax_i, green_x, green_y, color="#10b010", marker="o", ms=3.2, mfc="white", mew=0.8, lw=0.9)
curve(ax_i, ref_brown_x, ref_brown_y, color=BROWN, marker="s", ms=3, mfc="#ff2020", mec="#ff2020", mew=0.5, lw=0.9)
curve(ax_i, ref_red_x, ref_red_y, color=REF_RED, marker="o", ms=3.2, mfc="#ff2020", mec="#ff2020", mew=0.5, lw=0.9)
curve(ax_i, ref_green_x, ref_green_y, color=REF_GREEN, marker="X", ms=4, mfc="#ff2020", mec="#ff2020", mew=0.5, lw=0.9)
ax_i.set_xlim(0.01, 8)
ax_i.set_ylim(0.1, 3.03)
ax_i.xaxis.set_major_locator(FixedLocator([0.01, 0.1, 1]))
ax_i.xaxis.set_major_formatter(FixedFormatter(["0.01", "0.1", "1"]))
ax_i.yaxis.set_major_locator(FixedLocator([0.1, 1]))
ax_i.yaxis.set_major_formatter(FixedFormatter(["0.1", "1"]))
ax_i.xaxis.set_minor_locator(LogLocator(10, subs=range(2, 10), numticks=8))
ax_i.yaxis.set_minor_locator(LogLocator(10, subs=range(2, 10), numticks=8))
ax_i.xaxis.set_minor_formatter(NullFormatter())
ax_i.yaxis.set_minor_formatter(NullFormatter())
ax_i.tick_params(axis="both", which="major", direction="in", length=4, width=0.7, top=True, right=True, bottom=True, left=True,
                 labelsize=8.5, labelcolor="#333333", pad=2.5, color="#444444")
ax_i.tick_params(axis="y", which="major", pad=4.5)
ax_i.tick_params(axis="both", which="minor", direction="in", length=2, width=0.6, top=True, right=True, bottom=True, left=True, color="#444444")
ax_i.set_xlabel("")
ax_i.set_ylabel("")
ax_i.set_facecolor("white")
for s in ax_i.spines.values():
    s.set_color("#555555")
    s.set_linewidth(0.9)

# ---- overlay with notes and the hand built key boxes
over = px_axes(0, 0, W, H, 10)
over.set_xlim(0, W)
over.set_ylim(H, 0)
over.set_axis_off()
over.patch.set_alpha(0)
over.text(1130, 1068, "Water Preload", fontsize=27.4, ha="center", va="center")
over.text(1130, 1114, "(mol H$_2$O/kg)", fontsize=27.4, ha="center", va="center")
over.annotate("", xy=(1267, 1122), xytext=(1267, 1060), arrowprops=dict(arrowstyle="-|>", color="black", lw=1.0))
over.text(1293, 1173, main_labels[0], fontsize=27.4, ha="right", va="center")
for label, yy in zip(main_labels[1:6], [1271, 1323, 1360, 1392, 1456]):
    over.text(1293, yy, label, fontsize=20, ha="right", va="center")
for label, yy in zip(main_labels[6:], [1531, 1706, 1748]):
    over.text(1293, yy, label, fontsize=20, ha="right", va="center")

for x0, y0, x1, y1, title, size, cx, cy, ux0, ux1, uy in [(497, 1646, 688, 1792, "Reference:", 23, 592, 1676, 516, 668, 1687),
                                                           (688, 1595, 858, 1792, "Rubotherm:", 22.6, 773, 1618, 692, 854, 1631)]:
    over.fill([x0, x1, x1, x0], [y0, y0, y1, y1], facecolor="white", edgecolor="#555555", linewidth=1.1)
    over.text(cx, cy, title, fontsize=size, ha="center", va="center")
    over.plot([ux0, ux1], [uy, uy], color="black", lw=1.3)

key_rows = [
    (502, 587, 1719, "#777777", "s", BLACK, BLACK, 5.5, 0.8, None),
    (598, 683, 1719, "#e07070", "o", "white", REF_RED, 10, 0.9, "x"),
    (502, 587, 1766, "#d8a070", "s", "white", BROWN, 8, 0.9, "x"),
    (598, 683, 1766, "#a8cc70", "^", "white", REF_GREEN, 11.5, 0.9, "x"),
    (699, 769, 1655, PINK, "s", "white", PINK, 8, 2.2, None),
    (777, 847, 1655, GOLD, "v", "white", GOLD, 11, 2.2, None),
    (699, 769, 1694, "#f08a90", "o", "white", RED, 9.5, 2.2, None),
    (777, 847, 1694, "#eee680", "D", "white", YELLOW, 9, 2.2, None),
    (699, 769, 1732, ORANGE, "^", "white", ORANGE, 11, 2.2, None),
    (777, 847, 1732, LIME, "<", "white", LIME, 11, 2.2, None),
    (738, 808, 1771, GREEN, ">", "white", GREEN, 11, 2.2, None),
]
for xa, xb, yy, lc, mk, fc, ec, ms, mew, extra in key_rows:
    over.plot([xa, xb], [yy, yy], color=lc, lw=1.1)
    over.plot([(xa + xb) / 2], [yy], marker=mk, ms=ms, mfc=fc, mec=ec, mew=mew, ls="")
    if extra:
        over.plot([(xa + xb) / 2], [yy], marker=extra, ms=ms * 1.05, mec=ec, mew=0.8, ls="")

fig.savefig("out.png", dpi=100)
plt.close(fig)
